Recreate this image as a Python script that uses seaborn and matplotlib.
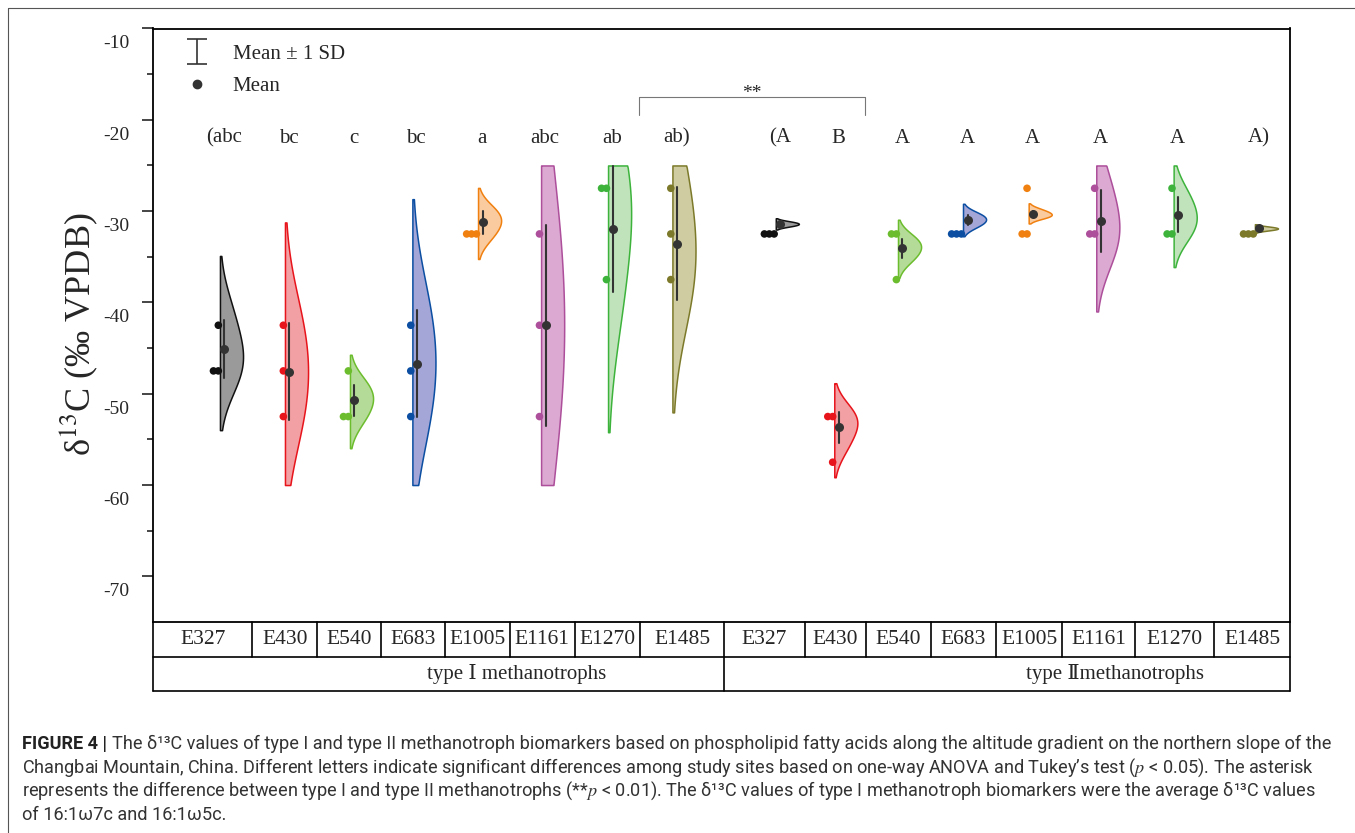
import numpy as np
import pandas as pd
import matplotlib
matplotlib.use("Agg")
import matplotlib.pyplot as plt
import seaborn as sns
from matplotlib.lines import Line2D
from matplotlib.legend_handler import HandlerErrorbar
from matplotlib.transforms import ScaledTranslation

sns.set_style("white")
plt.rcParams["font.family"] = ["Liberation Serif", "DejaVu Serif", "Noto Sans CJK SC"]
plt.rcParams["mathtext.fontset"] = "stix"
plt.rcParams["axes.unicode_minus"] = False

# sites along the altitude gradient
sites = ["E327", "E430", "E540", "E683", "E1005", "E1161", "E1270", "E1485"]
groups = ["type Ⅰ methanotrophs", "type Ⅱmethanotrophs"]

# d13C of the replicates, type I and type II
type1_vals = [
    [-41.5, -46.4, -47.4],
    [-42.3, -47.6, -52.9],
    [-49.2, -50.5, -52.5],
    [-40.9, -46.6, -52.6],
    [-30.1, -31.0, -32.6],
    [-31.5, -42.5, -53.5],
    [-26.5, -29.6, -39.75],
    [-27.0, -34.5, -39.2],
]
type2_vals = [
    [-31.2, -31.4, -31.6],
    [-52.4, -53.0, -55.6],
    [-33.1, -33.9, -35.15],
    [-30.4, -30.9, -31.55],
    [-29.9, -30.4, -30.6],
    [-27.3, -32.0, -33.9],
    [-28.3, -30.8, -32.1],
    [-31.75, -31.9, -32.05],
]

# Tukey letters
type1_letters = ["(abc", "bc", "c", "bc", "a", "abc", "ab", "ab)"]
type2_letters = ["(A", "B", "A", "A", "A", "A", "A", "A)"]

line_colors = ["#111111", "#e8141c", "#6cbd2e", "#0b4ea2", "#f08010", "#ad4f9b", "#3db33c", "#7c7a2a"]
fill_colors = ["#9a9a9a", "#f2a0a3", "#b5db98", "#a3a6d6", "#f9cb9f", "#dba9d1", "#c0e3bc", "#cfcca2"]

# layout: x slot of each violin (type I then type II)
slot_pos = [1, 2, 3, 3.96, 4.97, 5.94, 6.97, 7.96,
            9.55, 10.45, 11.43, 12.43, 13.44, 14.48, 15.67, 16.92]
x0, x1 = -0.03, 17.46

rows = []
for g, vals in enumerate([type1_vals, type2_vals]):
    for i, site in enumerate(sites):
        for v in vals[i]:
            rows.append({"group": groups[g], "site": site, "slot": g * 8 + i, "d13C": v})
df = pd.DataFrame(rows)
df["pos"] = [slot_pos[s] for s in df["slot"]]
df["side"] = "right"
# dots are binned to 5 permil and stacked to the left of each violin
df["bin"] = np.floor(df["d13C"] / 5) * 5 + 2.5
df["rank"] = df.groupby(["slot", "bin"]).cumcount()
df["dot_x"] = df["pos"] - 0.025 - 0.075 * df["rank"]

W, H = 1355, 833
fig = plt.figure(figsize=(W / 100, H / 100), dpi=100)
ax = fig.add_axes([153 / W, 1 - 622 / H, 1137 / W, 593.5 / H])

# half violins
for s, sub in df.groupby("slot"):
    i = s % 8
    sns.violinplot(data=sub, x="pos", y="d13C", hue="side", hue_order=["left", "right"],
                   palette=[fill_colors[i]] * 2, linecolor=line_colors[i], saturation=1,
                   split=True, dodge=True, native_scale=True, inner=None,
                   density_norm="width", bw_adjust=1.3, width=0.71, linewidth=1.1,
                   legend=False, ax=ax)

# the violins are trimmed to -60 .. -25
for coll in ax.collections:
    for path in coll.get_paths():
        path.vertices[:, 1] = np.clip(path.vertices[:, 1], -60, -25)

sns.scatterplot(data=df, x="dot_x", y="bin", hue="site", palette=dict(zip(sites, line_colors)),
                s=30, linewidth=0, legend=False, ax=ax, zorder=3)

# mean +- 1 SD, drawn just right of the violin edge
n_before = len(ax.lines)
sns.pointplot(data=df, x="pos", y="d13C", native_scale=True, errorbar="sd",
              color="#333333", linestyle="none", markersize=6.5, markeredgewidth=0,
              err_kws={"linewidth": 1.5}, legend=False, ax=ax)
shift = ScaledTranslation(0.045, 0, fig.dpi_scale_trans)
for ln in ax.lines[n_before:]:
    ln.set_transform(ln.get_transform() + shift)
    ln.set_zorder(4)

# letters
for k, lab in enumerate(type1_letters + type2_letters):
    ax.text(slot_pos[k] + 0.06, -22, lab, ha="center", va="center", fontsize=15)

# bracket between the two groups
bx0, bx1 = 7.45, 10.92
ax.plot([bx0, bx0, bx1, bx1], [-19.5, -17.5, -17.5, -19.5], color="#777777", lw=0.8)
ax.text((bx0 + bx1) / 2, -17.1, "**", ha="center", va="center", fontsize=14)

# legend
eb = ax.errorbar([np.nan], [np.nan], yerr=[1], fmt="none", ecolor="#333333",
                 elinewidth=1.2, capsize=7, capthick=1.2)
mean_handle = Line2D([], [], linestyle="none", marker="o", markersize=6, color="#333333")
ax.legend([eb, mean_handle], ["Mean ± 1 SD", "Mean"], loc="upper left",
          bbox_to_anchor=(0.0088, 1.0045), frameon=False, fontsize=15,
          handler_map={type(eb): HandlerErrorbar(xerr_size=0.9, yerr_size=0.6)},
          handlelength=1.5, labelspacing=0.6, handletextpad=0.95)

# axes
ax.set_xlim(x0, x1)
ax.set_ylim(-75, -10)
ax.set_xticks([])
ax.set_yticks(np.arange(-70, -9, 10))
ax.set_yticks(np.arange(-65, -14, 10), minor=True)
ax.tick_params(axis="y", which="major", direction="out", length=8, width=1.2,
               labelsize=14, pad=9, left=True, right=False)
ax.tick_params(axis="y", which="minor", direction="out", length=4, width=1.2, left=True)
down = ScaledTranslation(0, -0.07, fig.dpi_scale_trans)
for lbl in ax.get_yticklabels():
    lbl.set_va("top")
    lbl.set_transform(lbl.get_transform() + down)
for sp in ax.spines.values():
    sp.set_color("black")
    sp.set_linewidth(1.3)
ax.set_xlabel("")
ax.set_ylabel("δ$^{13}$C (‰ VPDB)", fontsize=26)
ax.yaxis.set_label_coords(-0.047, 0.485)

# site / group table under the axes
r1, r2 = -35 / 593.5, -69 / 593.5
xt = ax.get_xaxis_transform()
tab = dict(color="black", lw=1.2, clip_on=False)
edges = [x0] + [(a + b) / 2 for a, b in zip(slot_pos[:-1], slot_pos[1:])] + [x1]
ax.plot([x0, x1], [r1, r1], transform=xt, **tab)
ax.plot([x0, x1], [r2, r2], transform=xt, **tab)
for k, e in enumerate(edges):
    bottom = r2 if k in (0, 8, 16) else r1
    ax.plot([e, e], [0, bottom], transform=xt, **tab)
for k in range(16):
    ax.text((edges[k] + edges[k + 1]) / 2, r1 / 2, sites[k % 8], transform=xt,
            ha="center", va="center", fontsize=15.5)
ax.text(0.32, (r1 + r2) / 2, groups[0], transform=ax.transAxes, ha="center", va="center", fontsize=15)
ax.text(0.846, (r1 + r2) / 2, groups[1], transform=ax.transAxes, ha="center", va="center", fontsize=15)

# panel frame
fig.add_artist(Line2D([8 / W, 8 / W], [0, 1 - 8 / H], transform=fig.transFigure, color="#555555", lw=0.8))
fig.add_artist(Line2D([8 / W, 1], [1 - 8 / H, 1 - 8 / H], transform=fig.transFigure, color="#555555", lw=0.8))

# caption
cap_font = ["Roboto", "DejaVu Sans"]
caption = [
    "The δ¹³C values of type I and type II methanotroph biomarkers based on phospholipid fatty acids along the altitude gradient on the northern slope of the",
    "Changbai Mountain, China. Different letters indicate significant differences among study sites based on one-way ANOVA and Tukey’s test ($p$ < 0.05). The asterisk",
    "represents the difference between type I and type II methanotrophs (**$p$ < 0.01). The δ¹³C values of type I methanotroph biomarkers were the average δ¹³C values",
    "of 16:1ω7c and 16:1ω5c.",
]
baselines = [749, 773, 796, 820]
fs = 12
bold = fig.text(22 / W, 1 - baselines[0] / H, "FIGURE 4 |", fontsize=fs, fontweight="bold",
                family=cap_font, color="#222222", va="baseline")
cap_texts = []
for k, line in enumerate(caption):
    cap_texts.append(fig.text(22 / W, 1 - baselines[k] / H, line, fontsize=fs, family=cap_font,
                              color="#333333", va="baseline"))
# fit the first caption line to the width of the panel (two passes)
for _ in range(2):
    fig.canvas.draw()
    rend = fig.canvas.get_renderer()
    wb = bold.get_window_extent(rend).width
    cap_texts[0].set_x((22 + wb + 5) / W)
    fig.canvas.draw()
    right = cap_texts[0].get_window_extent(rend).x1
    fs = fs * (1338 - 22) / (right - 22)
    for t in [bold] + cap_texts:
        t.set_fontsize(fs)
fig.canvas.draw()
wb = bold.get_window_extent(fig.canvas.get_renderer()).width
cap_texts[0].set_x((22 + wb + 5) / W)

fig.savefig("out.png", dpi=100)
